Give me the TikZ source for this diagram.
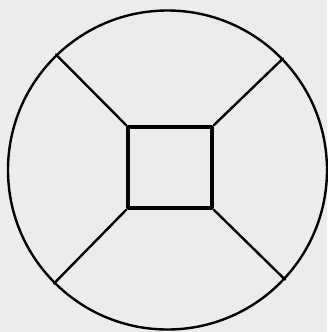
\documentclass[tikz,border=0pt]{standalone}
\definecolor{paper}{RGB}{236,236,236}
\begin{document}
\begin{tikzpicture}[line join=round, line cap=round, x=1pt, y=-1pt]
			\tikzset{ring/.style={draw, circle, inner sep=0pt, minimum size=319pt, line width=2.4pt},
				box/.style={draw, rectangle, inner sep=0pt, minimum width=84pt, minimum height=81pt, line width=3.4pt}}
			\fill[paper] (0,0) rectangle (327,332);
			\useasboundingbox (0,0) rectangle (327,332);
			\node[ring] (rim) at (167.5,170) {};
			\node[box] (hub) at (170,167.5) {};
			\foreach \c/\a in {north west/134, north east/44, south west/225, south east/317}
			\draw[line width=2.4pt] (hub.\c)--(rim.\a);
		\end{tikzpicture}
\end{document}
